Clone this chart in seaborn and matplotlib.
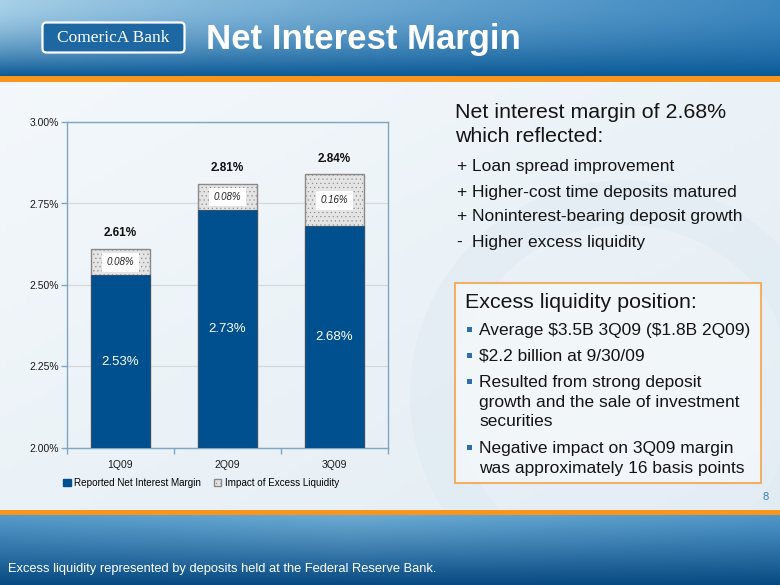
import numpy as np
import matplotlib
matplotlib.use('Agg')
import matplotlib.pyplot as plt
import seaborn as sns
import pandas as pd
from matplotlib.patches import Patch, FancyBboxPatch, Rectangle, Wedge
from matplotlib.ticker import FixedLocator

# ---------------- data ----------------
quarters = ['1Q09', '2Q09', '3Q09']
reported_nim = [2.53, 2.73, 2.68]
excess_impact = [0.08, 0.08, 0.16]
total_nim = [2.61, 2.81, 2.84]
yticks = [2.00, 2.25, 2.50, 2.75, 3.00]
series_names = ['Reported Net Interest Margin', 'Impact of Excess Liquidity']

title = 'Net Interest Margin'
intro_lines = ['Net interest margin of 2.68%', 'which reflected:']
driver_signs = ['+', '+', '+', '-']
driver_texts = ['Loan spread improvement', 'Higher-cost time deposits matured',
                'Noninterest-bearing deposit growth', 'Higher excess liquidity']
box_title = 'Excess liquidity position:'
box_bullets = [['Average $3.5B 3Q09 ($1.8B 2Q09)'],
               ['$2.2 billion at 9/30/09'],
               ['Resulted from strong deposit', 'growth and the sale of investment', 'securities'],
               ['Negative impact on 3Q09 margin', 'was approximately 16 basis points']]
footnote = 'Excess liquidity represented by deposits held at the Federal Reserve Bank.'
page_no = '8'

df = pd.DataFrame({'quarter': quarters, 'reported': reported_nim,
                   'impact': excess_impact, 'total': total_nim})

plt.rcParams['font.family'] = ['Liberation Sans', 'DejaVu Sans']
plt.rcParams['hatch.color'] = '#CACACA'
plt.rcParams['hatch.linewidth'] = 0.35

W, H = 780, 585
fig = plt.figure(figsize=(7.8, 5.85), dpi=100)

# ---------------- slide background ----------------
bg = fig.add_axes([0, 0, 1, 1], zorder=0)
bg.axis('off')


def grad_img(h, w, f):
    yy, xx = np.mgrid[0:h, 0:w]
    u = xx / max(w - 1, 1)
    v = yy / max(h - 1, 1)
    return f(u, v)


def lerp(a, b, t):
    a = np.array(a)[None, None, :]
    b = np.array(b)[None, None, :]
    return a + (b - a) * t[..., None]


body = grad_img(60, 120, lambda u, v: lerp((0.955, 0.972, 0.985), (0.89, 0.93, 0.955), (0.5 * u + 0.5 * v)))
bg.imshow(body, extent=(0, W, 512, 80), aspect='auto', origin='upper', zorder=0)


def header_f(u, v):
    top = lerp((0.66, 0.82, 0.91), (0.24, 0.53, 0.75), np.clip(u, 0, 1) ** 0.8)
    bot = np.array((0.04, 0.35, 0.59))[None, None, :]
    t = (v ** 1.7)[..., None]
    return top + (bot - top) * t


hdr = grad_img(40, 160, header_f)
bg.imshow(hdr, extent=(0, W, 77, 0), aspect='auto', origin='upper', zorder=1)


def footer_f(u, v):
    top = lerp((0.30, 0.58, 0.78), (0.42, 0.67, 0.83), 1 - np.abs(u - 0.45) * 1.6)
    bot = np.array((0.03, 0.29, 0.51))[None, None, :]
    t = (v ** 1.1)[..., None]
    return np.clip(top + (bot - top) * t, 0, 1)


ftr = grad_img(40, 160, footer_f)
bg.imshow(ftr, extent=(0, W, H, 514), aspect='auto', origin='upper', zorder=1)

bg.set_xlim(0, W)
bg.set_ylim(H, 0)

# watermark ring
bg.add_patch(Wedge((625, 395), 215, 0, 360, width=45, facecolor=(0.87, 0.915, 0.945),
                   edgecolor='none', alpha=0.45, zorder=0.5))

# orange rules
bg.add_patch(Rectangle((0, 76), W, 6, facecolor='#F7951D', edgecolor='none', zorder=2))
bg.add_patch(Rectangle((0, 509.5), W, 5.5, facecolor='#F7951D', edgecolor='none', zorder=2))

# logo
bg.add_patch(FancyBboxPatch((44, 24), 139, 27, boxstyle='round,pad=1.5,rounding_size=4',
                            facecolor='#1D67A3', edgecolor='white', linewidth=1.6, zorder=3))
bg.text(113, 38, 'ComericA Bank', color='white', fontsize=12.5,
        family=['Liberation Serif', 'DejaVu Serif'], ha='center', va='center', zorder=4)

# title
bg.text(206, 40, title, color='white', fontsize=25, fontweight='bold',
        ha='left', va='center', zorder=4)

# right-hand text
txt_col = '#141414'
bg.text(455, 113, intro_lines[0], fontsize=15.4, color=txt_col, va='center', zorder=4)
bg.text(455, 137, intro_lines[1], fontsize=15.4, color=txt_col, va='center', zorder=4)
for i, (s, t) in enumerate(zip(driver_signs, driver_texts)):
    yy = 167 + 25 * i
    bg.text(456, yy, s, fontsize=12.5, color=txt_col, va='center', zorder=4)
    bg.text(472, yy, t, fontsize=12.5, color=txt_col, va='center', zorder=4)

# box
bg.add_patch(Rectangle((455, 283), 306, 200, facecolor=(0.96, 0.975, 0.985), alpha=0.75,
                       edgecolor='#F39A3A', linewidth=1.5, zorder=3))
bg.text(465, 303, box_title, fontsize=15.4, color=txt_col, va='center', zorder=4)
yy = 330
line_gap = 20
for group in box_bullets:
    bg.add_patch(Rectangle((466.5, yy - 2.8), 5, 5, facecolor='#2F6EA6', edgecolor='none', zorder=4))
    for j, line in enumerate(group):
        bg.text(479, yy, line, fontsize=12.5, color=txt_col, va='center', zorder=4,
                parse_math=False)
        yy += line_gap
    yy += 6

# footer texts
bg.text(8, 569, footnote, fontsize=9.3, color='white', va='center', zorder=4)
bg.text(766, 497, page_no, fontsize=8, color='#3A7DB4', ha='center', va='center', zorder=4)

# ---------------- chart ----------------
ax = fig.add_axes([67 / W, (H - 448) / H, 321 / W, 326 / H], zorder=2)
ax.set_facecolor('none')

blue = '#00508F'
gray = '#E4E4E4'
sns.barplot(data=df, x='quarter', y='total', color=gray, saturation=1, width=0.55,
            edgecolor='#8A8A8A', linewidth=1.0, hatch='....', ax=ax, zorder=2)
sns.barplot(data=df, x='quarter', y='reported', color=blue, saturation=1, width=0.55,
            edgecolor='#34506A', linewidth=0.8, ax=ax, zorder=3)

ax.set_ylim(2.0, 3.0)
ax.set_xlim(-0.5, 2.5)
ax.set_yticks(yticks)
ax.set_yticklabels([f'{v:.2f}%' for v in yticks], fontsize=7.5, color='#1A1A1A')
ax.set_xticks(range(len(quarters)))
ax.set_xticklabels(quarters, fontsize=7.5, color='#1A1A1A')
ax.xaxis.set_minor_locator(FixedLocator([-0.5, 0.5, 1.5, 2.5]))
spine_col = '#7FA6C0'
ax.tick_params(axis='x', which='major', length=0, pad=9)
ax.tick_params(axis='x', which='minor', length=4, color=spine_col, width=1, direction='out')
ax.tick_params(axis='y', which='major', length=4, color=spine_col, width=1, direction='out', pad=1.5)
ax.set_xlabel('')
ax.set_ylabel('')
for sp in ax.spines.values():
    sp.set_color(spine_col)
    sp.set_linewidth(1.0)
ax.set_axisbelow(True)
ax.yaxis.grid(True, color='#D6D9DC', linewidth=0.9)

for i, q in enumerate(quarters):
    ax.text(i, total_nim[i] + 0.048, f'{total_nim[i]:.2f}%', ha='center', va='center',
            fontsize=8.5, fontweight='bold', color='#111111', zorder=5)
    ax.text(i, reported_nim[i] + excess_impact[i] / 2, f'{excess_impact[i]:.2f}%',
            ha='center', va='center', fontsize=7, style='italic', color='#222222', zorder=5,
            bbox=dict(boxstyle='square,pad=0.45', facecolor='white', edgecolor='none'))
    ax.text(i, (2.0 + reported_nim[i]) / 2, f'{reported_nim[i]:.2f}%', ha='center', va='center',
            fontsize=9.5, color='white', zorder=5)

handles = [Patch(facecolor=blue, edgecolor=blue),
           Patch(facecolor=gray, edgecolor='#8A8A8A', hatch='....')]
ax.legend(handles, series_names, loc='center left', bbox_to_anchor=(-0.012, -0.108),
          ncol=2, frameon=False, fontsize=7.1, handlelength=0.75, handleheight=0.75,
          handletextpad=0.35, columnspacing=1.3, borderaxespad=0, borderpad=0)

fig.savefig('out.png', dpi=100)
